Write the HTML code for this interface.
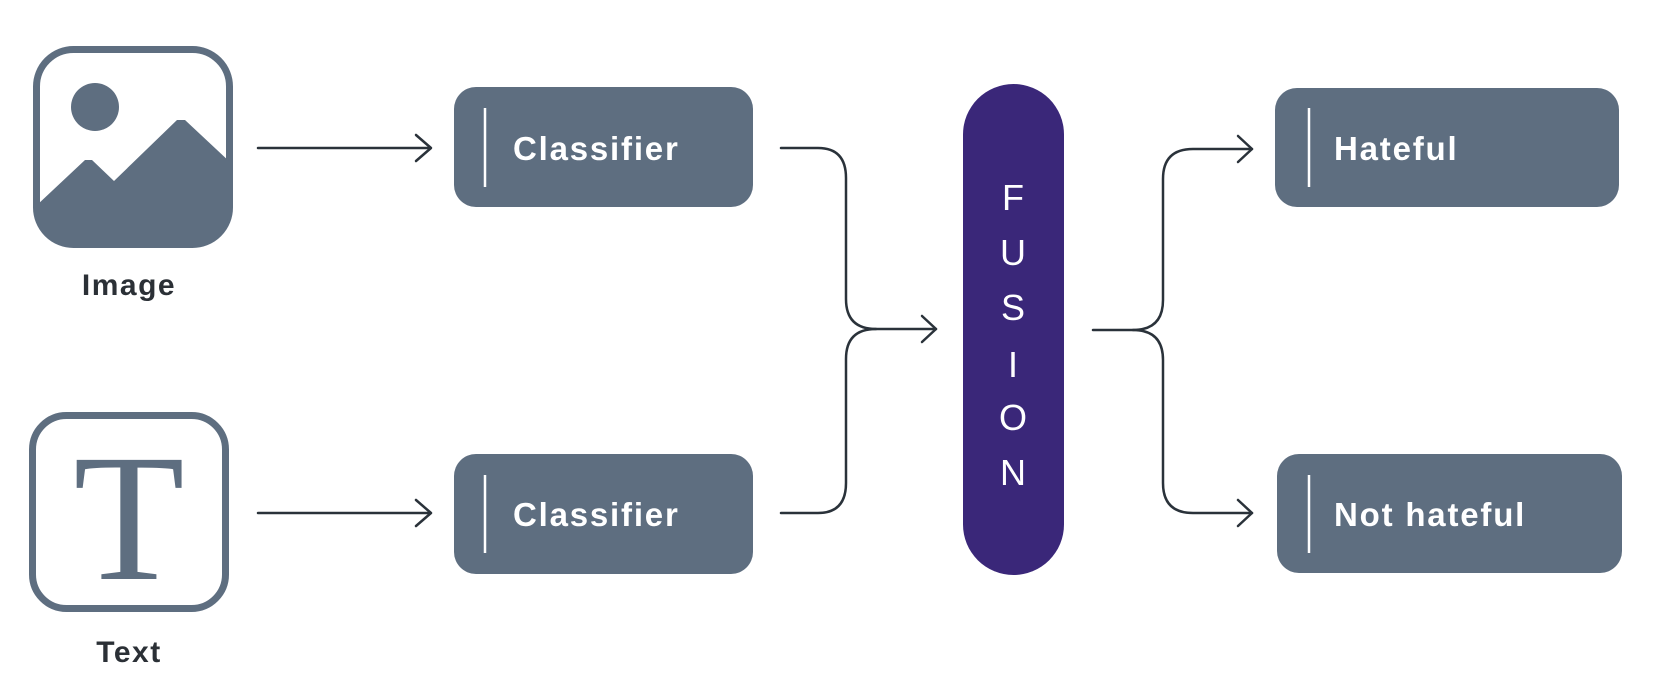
<!DOCTYPE html>
<html><head><meta charset="utf-8"><style>
html,body{margin:0;padding:0;background:#fff;}
svg{display:block;}
text{font-family:"Liberation Sans",sans-serif;}
</style></head><body>
<svg width="1657" height="688" viewBox="0 0 1657 688" xmlns="http://www.w3.org/2000/svg">
<defs>
<clipPath id="ic"><rect x="36.5" y="49.5" width="193" height="195" rx="37"/></clipPath>
</defs>
<rect x="36.5" y="49.5" width="193" height="195" rx="37" fill="#fff" stroke="#5e6e80" stroke-width="7"/>
<g clip-path="url(#ic)" fill="#5e6e80">
<ellipse cx="95" cy="107" rx="24" ry="24"/>
<polygon points="36,206 85,160 92,160 114,181 177,120 185,120 232,164 232,250 36,250"/>
</g>
<text x="129" y="295" text-anchor="middle" font-size="30" font-weight="bold" fill="#2b3036" letter-spacing="1.5">Image</text>
<rect x="32.5" y="415.5" width="193" height="193" rx="34" fill="#fff" stroke="#5e6e80" stroke-width="7"/>
<text x="129" y="579" text-anchor="middle" font-size="182" fill="#5e6e80" style="font-family:'Liberation Serif',serif">T</text>
<text x="129" y="662" text-anchor="middle" font-size="30" font-weight="bold" fill="#2b3036" letter-spacing="1.5">Text</text>

<g stroke="#2a323a" stroke-width="2.5" fill="none" stroke-linecap="round" stroke-linejoin="round">
<line x1="258" y1="148" x2="430" y2="148"/><polyline points="416,135 431,148 416,161"/>
<line x1="258" y1="513" x2="430" y2="513"/><polyline points="416,500 431,513 416,526"/>
<path d="M781,148 H818 Q846,148 846,178 V299 Q846,329 876,329 H936"/>
<path d="M781,513 H818 Q846,513 846,483 V359 Q846,329 876,329"/>
<polyline points="922,316 936,329 922,342"/>
<path d="M1093,330 H1133 Q1163,330 1163,300 V179 Q1163,149 1193,149 H1252"/>
<path d="M1133,330 Q1163,330 1163,360 V483 Q1163,513 1193,513 H1252"/>
<polyline points="1238,136 1252,149 1238,162"/>
<polyline points="1238,500 1252,513 1238,526"/>
</g>

<rect x="454" y="87" width="299" height="120" rx="22" fill="#5e6e80"/>
<line x1="485" y1="108" x2="485" y2="187" stroke="#fff" stroke-width="2.5"/>
<text x="513" y="160" font-size="33" font-weight="bold" fill="#fff" letter-spacing="1.8">Classifier</text>
<rect x="454" y="454" width="299" height="120" rx="22" fill="#5e6e80"/>
<line x1="485" y1="475" x2="485" y2="553" stroke="#fff" stroke-width="2.5"/>
<text x="513" y="526" font-size="33" font-weight="bold" fill="#fff" letter-spacing="1.8">Classifier</text>

<rect x="963" y="84" width="101" height="491" rx="50.5" fill="#3a2779"/>
<g font-size="36" fill="#fff" text-anchor="middle">
<text x="1013" y="210">F</text>
<text x="1013" y="265">U</text>
<text x="1013" y="320">S</text>
<text x="1013" y="377">I</text>
<text x="1013" y="430">O</text>
<text x="1013" y="485">N</text>
</g>

<rect x="1275" y="88" width="344" height="119" rx="22" fill="#5e6e80"/>
<line x1="1309" y1="108" x2="1309" y2="187" stroke="#fff" stroke-width="2.5"/>
<text x="1334" y="160" font-size="33" font-weight="bold" fill="#fff" letter-spacing="1.8">Hateful</text>
<rect x="1277" y="454" width="345" height="119" rx="22" fill="#5e6e80"/>
<line x1="1309" y1="475" x2="1309" y2="553" stroke="#fff" stroke-width="2.5"/>
<text x="1334" y="526" font-size="33" font-weight="bold" fill="#fff" letter-spacing="1.8">Not hateful</text>
</svg>
</body></html>
